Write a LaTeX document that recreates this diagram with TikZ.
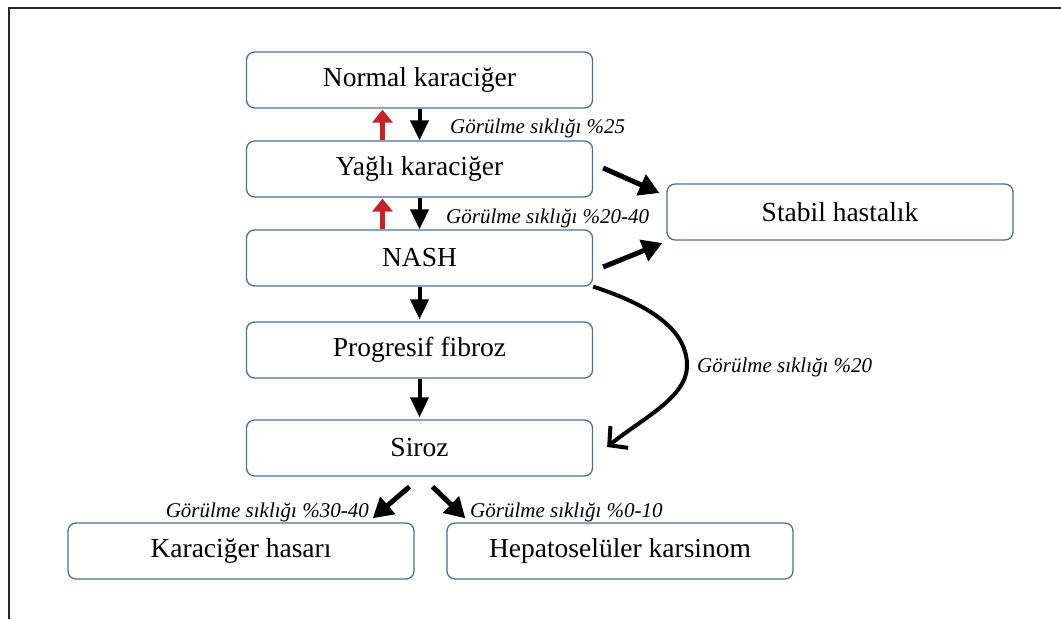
\documentclass[tikz,border=0pt]{standalone}
\usepackage{fontspec}
\setmainfont{Liberation Serif}
\usepackage{tikz}
\usetikzlibrary{arrows.meta,calc}
\definecolor{boxblue}{RGB}{74,112,150}
\definecolor{uparrow}{RGB}{200,32,40}

\begin{document}
\begin{tikzpicture}[x=1pt,y=-1pt]
\tikzstyle{stage}=[rectangle,rounded corners=8pt,draw=boxblue,line width=1.3pt,minimum width=346pt,minimum height=56pt,inner sep=0pt,font=\fontsize{27.5}{30}\selectfont]
\tikzstyle{freq}=[inner sep=0pt,font=\fontsize{21}{24}\selectfont\itshape]
\tikzstyle{down}=[line width=4pt,-{Triangle[width=18pt,length=20pt]}]
\tikzstyle{back}=[uparrow,line width=5pt,-{Triangle[width=20pt,length=13pt]}]
\tikzstyle{side}=[line width=5pt,-{Triangle[width=22pt,length=20pt]}]
\useasboundingbox (0,0) rectangle (1061,619);
\draw[line width=1.5pt,black!85] (9,619) -- (9,8) -- (1061,8);
\node [stage] (normal) at (419.5,80) {Normal karaciğer};
\node [stage] (yagli) at (419.5,169) {Yağlı karaciğer};
\node [stage] (nash) at (419.5,258) {NASH};
\node [stage] (fibroz) at (419.5,350) {Progresif fibroz};
\node [stage] (siroz) at (419.5,448) {Siroz};
\node [stage] (stabil) at (840,212) {Stabil hastalık};
\node [stage] (hasar) at (241,551) {Karaciğer hasarı};
\node [stage] (hcc) at (620,551) {Hepatoselüler karsinom};
\node [freq,anchor=base west] (f25) at (450,133) {Görülme sıklığı \%25};
\node [freq,anchor=base west] (f2040) at (446,223) {Görülme sıklığı \%20-40};
\node [freq,anchor=base west] (f20) at (697,372) {Görülme sıklığı \%20};
\node [freq,anchor=base east] (f3040) at (369,517) {Görülme sıklığı \%30-40};
\node [freq,anchor=base west] (f010) at (470,517) {Görülme sıklığı \%0-10};
\draw [down] (normal.south) -- (yagli.north);
\draw [down] (yagli.south) -- (nash.north);
\draw [down] (nash.south) -- ($(fibroz.north)+(0,-2)$);
\draw [down] (fibroz.south) -- ($(siroz.north)+(0,-2)$);
\draw [back] ($(yagli.north)+(-37,0)$) -- ($(normal.south)+(-37,1)$);
\draw [back] ($(nash.north)+(-37,0)$) -- ($(yagli.south)+(-37,1)$);
\draw [side] ($(yagli.east)+(10,-1)$) -- ($(stabil.west)+(-7,-19)$);
\draw [side] ($(nash.east)+(10,9)$) -- ($(stabil.west)+(-4,31)$);
\draw [line width=4pt,-{Straight Barb[length=13pt,width=28pt]}] (nash.south east) .. controls (650,305) and (688,330) .. (687,367) .. controls (686,398) and (640,420) .. ($(siroz.east)+(14,-1)$);
\draw [side] ($(siroz.south)+(-10,10)$) -- ($(hasar.north east)+(-42,-4)$);
\draw [side] ($(siroz.south)+(13,10)$) -- ($(hcc.north west)+(19,-4)$);
\end{tikzpicture}
\end{document}
